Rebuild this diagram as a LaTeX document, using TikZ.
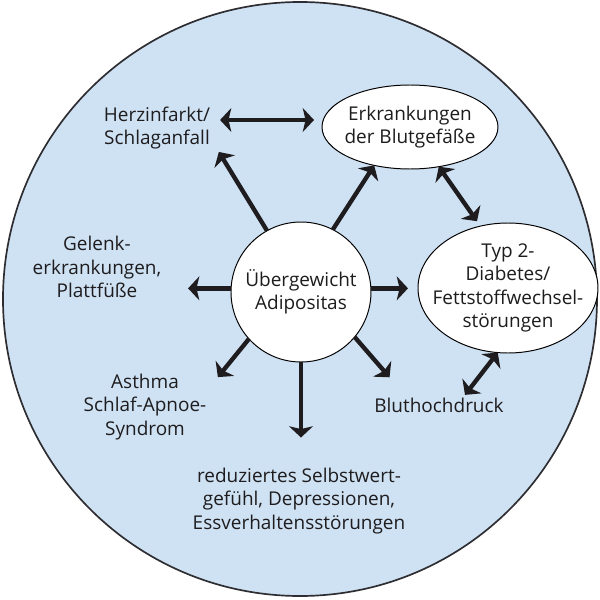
\documentclass[tikz,border=0pt]{standalone}
\usepackage{fontspec}
\setmainfont{Open Sans}
\usepackage{xcolor}
\usepackage{tikz}
\usetikzlibrary{arrows.meta, shapes.geometric}
\definecolor{bgblue}{RGB}{207, 226, 243}
\definecolor{rimgray}{RGB}{45, 45, 50}
\definecolor{inkblack}{RGB}{30, 28, 30}
\tikzset{
	txt/.style={align=center, inner sep=2pt, outer sep=0pt, text=inkblack, font=\fontsize{13.5}{16.5}\selectfont},
	bubble/.style={txt, ellipse, draw=black, fill=white, line width=0.7pt, inner sep=0pt},
	fatarrow/.style={inkblack, line width=3.1pt, -{Stealth[length=8pt, width=17pt, inset=2pt]}},
	fatboth/.style={inkblack, line width=3.1pt, {Stealth[length=8pt, width=17pt, inset=2pt]}-{Stealth[length=8pt, width=17pt, inset=2pt]}},
}

\begin{document}
\begin{tikzpicture}
		\useasboundingbox (-7.5,-7.5) rectangle (7.5,7.5);
		\fill[bgblue] (0,0.025) circle (7.425);
		\draw[rimgray, line width=1.2pt] (0,0.025) circle (7.425);

		\node[bubble, circle, minimum size=3.5cm] (adip) at (0.025, 0.2) {Übergewicht\\Adipositas};
		\node[bubble, minimum width=4.4cm, minimum height=2.1cm, inner xsep=-0.1cm] (gefaesse) at (2.75, 4.325) {Erkrankungen\\der Blutgefäße};
		\node[bubble, minimum width=4.5cm, minimum height=3.25cm, inner xsep=-0.7cm, inner ysep=-0.1cm] (diabetes) at (5.2, 0.3) {Typ 2-\\Diabetes/\\Fettstoffwechsel-\\störungen};

		\node[txt] (herz) at (-3.575, 4.3) {Herzinfarkt/\\Schlaganfall};
		\node[txt] (gelenk) at (-5.075, 0.825) {Gelenk-\\erkrankungen,\\Plattfüße};
		\node[txt] (asthma) at (-3.875, -2.675) {Asthma\\Schlaf-Apnoe-\\Syndrom};
		\node[txt] (blut) at (3.475, -2.625) {Bluthochdruck};
		\node[txt] (selbst) at (-0.025, -5.025) {reduziertes Selbstwert-\\gefühl, Depressionen,\\Essverhaltensstörungen};

		\draw[fatboth, shorten <=0.18cm, shorten >=0.2cm] ([yshift=0.2cm]herz.east) -- ([yshift=0.2cm]herz.east -| gefaesse.west);
		\draw[fatarrow] (adip.119) -- ([xshift=0.15cm]herz.south east);
		\draw[fatarrow] (adip.63) -- (gefaesse.227);
		\draw[fatboth, shorten >=0.15cm] (gefaesse.306) -- (diabetes.114);
		\draw[fatarrow, shorten >=0.6cm] (adip.177) -- (adip.177 -| gelenk.east);
		\draw[fatarrow, shorten >=0.25cm] (adip.3) -- (adip.3 -| diabetes.west);
		\draw[fatarrow] (adip.222) -- ([shift={(0.22,-0.14)}]asthma.north east);
		\draw[fatarrow] (adip.-40) -- ([shift={(0.45,0.44)}]blut.north west);
		\draw[fatarrow, shorten >=0.7cm] (adip.south) -- (adip.south |- selbst.north);
		\draw[fatboth] (diabetes.261) -- ([xshift=0.65cm]blut.north);
	\end{tikzpicture}
\end{document}
